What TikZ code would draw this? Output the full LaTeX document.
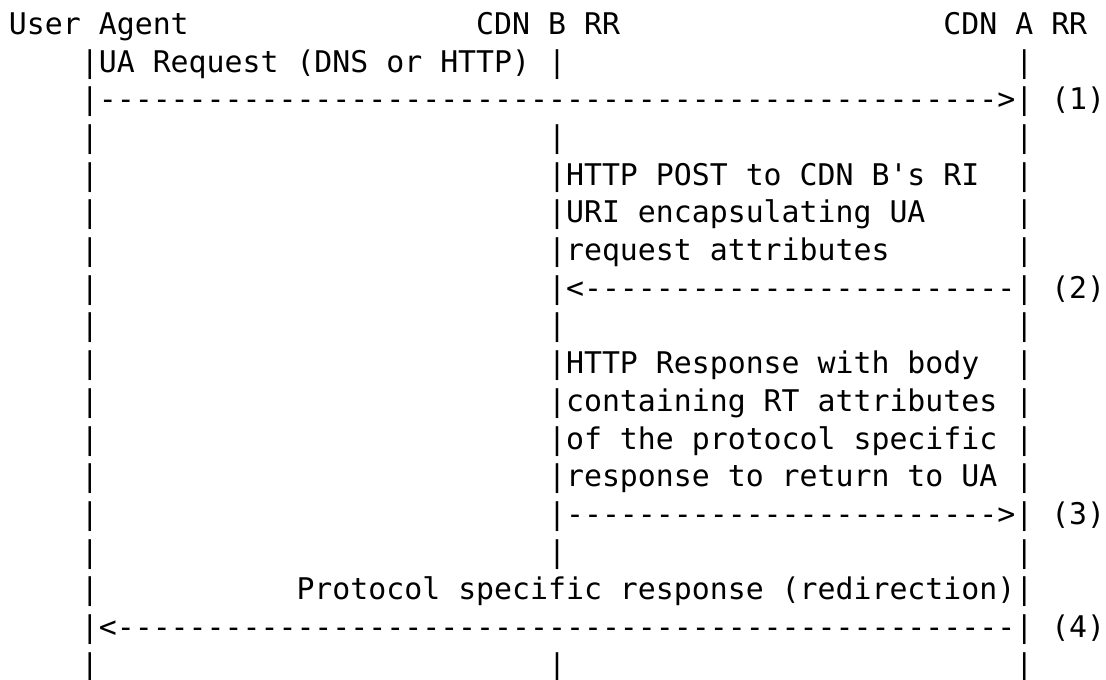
\documentclass[tikz,border=0pt]{standalone}
\usepackage{fontspec}
\setmonofont{DejaVu Sans Mono}
\newcommand\asciicw{17.97}
\newcommand\asciixo{9}
\newcommand\asciilh{37.7}
\newcommand\asciiyb{34.3}
\newcommand\dten{----------}
\newcommand\dfifty{\dten\dten\dten\dten\dten}
\newcommand\dtwentyfour{\dten\dten----}
\newcommand\asciitext[4]{\node[txt] (#1) at ({(\asciixo+#2*\asciicw)*1pt},{-(\asciiyb+#3*\asciilh)*1pt}) {#4};}
\begin{document}
\begin{tikzpicture}[txt/.style={anchor=base west, inner sep=0pt, outer sep=0pt, font=\ttfamily\fontsize{29.85}{36}\selectfont, text=black}]
\useasboundingbox[fill=white] (0,0) rectangle (1106pt,-680pt);
% header
\asciitext{ua}{0}{0}{User Agent}
\asciitext{cdnb}{26}{0}{CDN B RR}
\asciitext{cdna}{52}{0}{CDN A RR}
% row 1
\asciitext{r1a}{4}{1}{|UA Request (DNS or HTTP) |}
\asciitext{r1c}{56}{1}{|}
% row 2: (1)
\asciitext{m1}{4}{2}{|\dfifty>|}
\asciitext{l1}{58}{2}{(1)}
% lifeline-only rows
\foreach \r in {3,8,14,17}{
  \asciitext{p\r a}{4}{\r}{|}
  \asciitext{p\r b}{30}{\r}{|}
  \asciitext{p\r c}{56}{\r}{|}
}
% rows with text at CDN B
\foreach \r/\t in {4/HTTP POST to CDN B's RI, 5/URI encapsulating UA, 6/request attributes, 9/HTTP Response with body, 10/containing RT attributes, 11/of the protocol specific, 12/response to return to UA}{
  \asciitext{q\r a}{4}{\r}{|}
  \asciitext{q\r b}{30}{\r}{|\t}
  \asciitext{q\r c}{56}{\r}{|}
}
% row 7: (2)
\asciitext{p7a}{4}{7}{|}
\asciitext{m2}{30}{7}{|<\dtwentyfour|}
\asciitext{l2}{58}{7}{(2)}
% row 13: (3)
\asciitext{p13a}{4}{13}{|}
\asciitext{m3}{30}{13}{|\dtwentyfour>|}
\asciitext{l3}{58}{13}{(3)}
% row 15
\asciitext{p15a}{4}{15}{|}
\asciitext{t15}{16}{15}{Protocol specific response (redirection)|}
% row 16: (4)
\asciitext{m4}{4}{16}{|<\dfifty|}
\asciitext{l4}{58}{16}{(4)}
\end{tikzpicture}
\end{document}
